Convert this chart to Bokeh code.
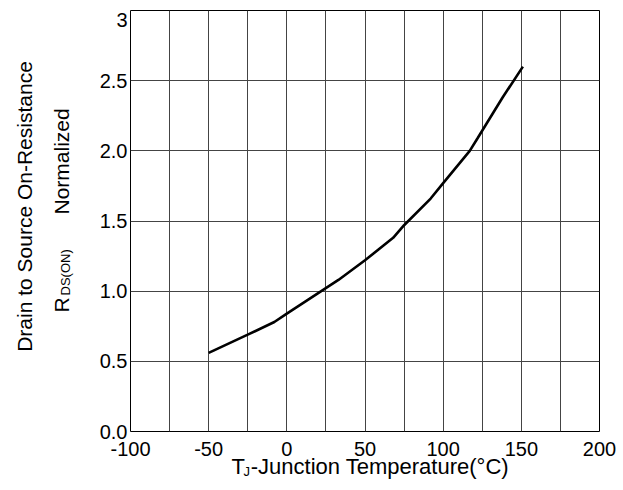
import math
from bokeh.plotting import figure
from bokeh.models import FixedTicker, Label, Range1d
from bokeh.embed import file_html
from bokeh.resources import INLINE

# ---- data ----
temp_c = [-50, -25, -8, 0, 33, 50, 68, 75, 92, 100, 117, 122, 138, 151]
rds_norm = [0.56, 0.69, 0.78, 0.84, 1.08, 1.22, 1.38, 1.47, 1.66, 1.77, 2.0, 2.09, 2.38, 2.6]

x_ticks = [-100, -50, 0, 50, 100, 150, 200]
x_tick_labels = ["-100", "-50", "0", "50", "100", "150", "200"]
x_minor = [-75, -25, 25, 75, 125, 175]
y_ticks = [0.0, 0.5, 1.0, 1.5, 2.0, 2.5, 3.0]
y_tick_labels = ["0.0", "0.5", "1.0", "1.5", "2.0", "2.5", "3"]

x_title_main = "T -Junction Temperature(°C)"
x_title_sub = "J"
y_title_1 = "Drain to Source On-Resistance"
y_title_2a, y_title_2b, y_title_2c = "R", "DS(ON)", "Normalized"

FONT = "Liberation Sans"
TICK_SIZE = "20px"
LABEL_SIZE = "21px"
XLABEL_SIZE = "22px"
SUB_SIZE = "13px"

# ---- layout (pixels) ----
FL, FT, FW, FH = 130, 10, 469, 421
XMIN, XMAX, YMIN, YMAX = -100, 200, 0, 3


def sx(px):   # page x pixel -> data x (for placing annotations)
    return XMIN + (px - FL) * (XMAX - XMIN) / FW


def sy(py):   # page y pixel -> data y
    return YMIN + (FT + FH - py) * (YMAX - YMIN) / FH


p = figure(
    frame_width=FW, frame_height=FH,
    x_range=Range1d(XMIN, XMAX), y_range=Range1d(YMIN, YMAX),
    output_backend="svg", toolbar_location=None,
    min_border_left=FL, min_border_right=623 - FL - FW,
    min_border_top=FT, min_border_bottom=490 - FT - FH,
    background_fill_color="white", border_fill_color="white",
)
p.outline_line_color = "black"
p.outline_line_width = 1

p.xaxis.ticker = FixedTicker(ticks=x_ticks, minor_ticks=x_minor)
p.xaxis.major_label_overrides = dict(zip(x_ticks, x_tick_labels))
p.yaxis.ticker = FixedTicker(ticks=y_ticks)
p.yaxis.major_label_overrides = {t: (lab if t != y_ticks[-1] else "") for t, lab in zip(y_ticks, y_tick_labels)}
for ax in (p.xaxis, p.yaxis):
    ax.axis_line_color = None
    ax.major_tick_line_color = None
    ax.minor_tick_line_color = None
    ax.major_tick_out = 0
    ax.major_tick_in = 0
    ax.minor_tick_out = 0
    ax.minor_tick_in = 0
    ax.major_label_text_font = FONT
    ax.major_label_text_font_size = TICK_SIZE
    ax.major_label_text_color = "black"
p.xaxis.major_label_standoff = 10
p.yaxis.major_label_standoff = 3

GRID = "#444444"
p.xgrid.grid_line_color = GRID
p.xgrid.minor_grid_line_color = GRID
p.ygrid.grid_line_color = GRID

p.line(temp_c, rds_norm, line_color="black", line_width=2.6)


def lab(side, px, py, text, size, align="left", baseline="middle", angle=0.0):
    p.add_layout(Label(x=sx(px), y=sy(py), text=text, text_align=align, text_baseline=baseline,
                       angle=angle, text_font=FONT, text_font_size=size, text_color="black"), side)


V = math.pi / 2
# y-axis titles (left panel)
lab("left", 24, 206, y_title_1, LABEL_SIZE, align="center", angle=V)
lab("left", 61, 312, y_title_2a, LABEL_SIZE, angle=V)
lab("left", 61, 214, y_title_2c, LABEL_SIZE, angle=V)
lab("left", 65, 295, y_title_2b, SUB_SIZE, angle=V)
# x-axis title (below panel)
lab("below", 370, 466, x_title_main, XLABEL_SIZE, align="center")
# subscript J and top tick label (right panel, small)
lab("right", 243, 471, x_title_sub, SUB_SIZE)
lab("right", 127, 19, y_tick_labels[-1], TICK_SIZE, align="right")

open("out.html", "w").write(file_html(p, INLINE))
